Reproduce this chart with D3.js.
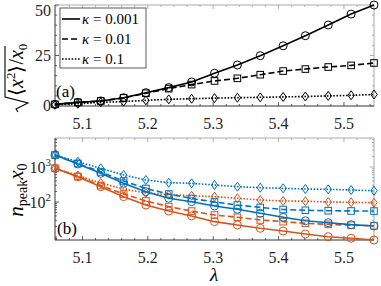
<!DOCTYPE html>
<html>
<head>
<meta charset="utf-8">
<script src="https://cdn.jsdelivr.net/npm/d3@7"></script>
<style>
  body { margin: 0; background: #fff; }
  svg { display: block; }
  text { font-family: "Liberation Serif", serif; }
</style>
</head>
<body>
<svg id="chart" width="381" height="286"></svg>
<script>
// lambda values (shared by both panels)
const lambda = [5.058, 5.093, 5.128, 5.163, 5.197, 5.232, 5.267, 5.302,
                5.337, 5.372, 5.407, 5.441, 5.476, 5.511, 5.546];

// panel (a): sqrt(<x^2>)/x0
const rmsK001 = [0.8, 1.8, 2.5, 4.1, 6.6, 9.1, 11.9, 16.2, 20.3, 24.9, 29.8, 34.8, 40.1, 45.5, 50];
const rmsK01  = [0.8, 1.8, 2.5, 4.0, 6.3, 8.6, 10.6, 12.4, 13.7, 15.5, 17.3, 18.3, 19.3, 20.1, 21.3];
const rmsK1   = [0.6, 1.1, 1.8, 2.2, 2.8, 3.3, 3.6, 3.9, 4.1, 4.3, 4.5, 4.7, 5.0, 5.3, 5.7];

// panel (b): n_peak x0, blue and orange families
const blueK001 = [2200, 1220, 660, 342, 197, 128, 102, 77, 62, 47.5, 36.5, 29, 25.6, 22.5, 20.6];
const blueK01  = [2200, 1260, 720, 398, 243, 169, 126, 100, 82, 70, 61, 58, 56.4, 55.3, 55];
const blueK1   = [2200, 1417, 918, 591, 425, 356, 342, 306, 274, 256, 246, 235, 230, 220, 210];
const orangeK001 = [918, 528, 274, 142, 82, 55, 40, 27.4, 22, 17.7, 14.8, 12.2, 10.2, 9.2, 8.2];
const orangeK01  = [918, 535, 296, 169, 107, 74, 55, 42.5, 36.6, 30.6, 27.4, 24.6, 23, 21.6, 21];
const orangeK1   = [918, 571, 349, 235, 181, 161, 151, 142, 128, 114, 107, 105, 100, 98, 95.5];

const legendLabels = ["0.001", "0.01", "0.1"];
const xTicks = [5.1, 5.2, 5.3, 5.4, 5.5];
const yTicksA = [0, 25, 50];
const yTicksB = [100, 1000];

const svg = d3.select("#chart");
const left = 55, right = 374;
const topA = 5, botA = 106, topB = 138, botB = 240;

let x = d3.scaleLinear().domain([5.058, 5.546]).range([left, right]);
let yA = d3.scaleLinear().domain([0, 50]).range([botA, topA]);
let yB = d3.scaleLog().domain([8.2, 6740]).range([botB, topB]);

const blue = "#0072BD", orange = "#D95319";
const dashes = { solid: null, dash: "6,3", dot: "1.6,1.6" };

function frame(y, top, bot, yMinor, yMajor) {
  let g = svg.append("g");
  // minor x ticks (inside, top and bottom)
  let minor = d3.range(5.06, 5.55, 0.02);
  minor.forEach(v => {
    let px = x(v);
    let major = xTicks.some(t => Math.abs(t - v) < 1e-6);
    let len = major ? 4 : 2;
    g.append("line").attr("x1", px).attr("x2", px).attr("y1", bot).attr("y2", bot - len)
      .attr("stroke", "#333").attr("stroke-width", 0.8);
    g.append("line").attr("x1", px).attr("x2", px).attr("y1", top).attr("y2", top + len)
      .attr("stroke", "#999").attr("stroke-width", 0.8);
  });
  yMinor.forEach(v => {
    let py = y(v);
    let len = yMajor.includes(v) ? 4 : 2;
    g.append("line").attr("x1", left).attr("x2", left + len).attr("y1", py).attr("y2", py)
      .attr("stroke", "#333").attr("stroke-width", 0.8);
    g.append("line").attr("x1", right).attr("x2", right - len).attr("y1", py).attr("y2", py)
      .attr("stroke", "#999").attr("stroke-width", 0.8);
  });
  g.append("line").attr("x1", left).attr("x2", right).attr("y1", top).attr("y2", top).attr("stroke", "#aaa");
  g.append("line").attr("x1", right).attr("x2", right).attr("y1", top).attr("y2", bot).attr("stroke", "#aaa");
  g.append("line").attr("x1", left).attr("x2", right).attr("y1", bot).attr("y2", bot).attr("stroke", "#333");
  g.append("line").attr("x1", left).attr("x2", left).attr("y1", top).attr("y2", bot).attr("stroke", "#333");
  // x tick labels
  xTicks.forEach(t => {
    g.append("text").attr("x", x(t)).attr("y", bot + 23)
      .attr("text-anchor", "middle").attr("font-size", 16).attr("fill", "#262626")
      .text(t.toFixed(1));
  });
}

// marker shapes
function marker(g, shape, px, py, color) {
  if (shape === "circle") {
    g.append("circle").attr("cx", px).attr("cy", py).attr("r", 4)
      .attr("fill", "none").attr("stroke", color).attr("stroke-width", 1);
  } else if (shape === "square") {
    g.append("rect").attr("x", px - 3.3).attr("y", py - 3.3).attr("width", 6.6).attr("height", 6.6)
      .attr("fill", "none").attr("stroke", color).attr("stroke-width", 1);
  } else {
    g.append("path").attr("d", `M${px},${py - 4.5}L${px + 3.2},${py}L${px},${py + 4.5}L${px - 3.2},${py}Z`)
      .attr("fill", "none").attr("stroke", color).attr("stroke-width", 1);
  }
}

function series(y, vals, color, dash, shape) {
  let g = svg.append("g");
  let line = d3.line().x((d, i) => x(lambda[i])).y(d => y(d));
  g.append("path").datum(vals).attr("d", line)
    .attr("fill", "none").attr("stroke", color).attr("stroke-width", 1.6)
    .attr("stroke-dasharray", dash);
  vals.forEach((v, i) => marker(g, shape, x(lambda[i]), y(v), color));
}

// ---- panel (a)
frame(yA, topA, botA, d3.range(0, 51, 5), yTicksA);
yTicksA.forEach(t => {
  svg.append("text").attr("x", 51).attr("y", Math.max(yA(t) + 5, 16)).attr("text-anchor", "end")
    .attr("font-size", 16).attr("fill", "#262626").text(t);
});
series(yA, rmsK1, "#000", dashes.dot, "diamond");
series(yA, rmsK01, "#000", dashes.dash, "square");
series(yA, rmsK001, "#000", dashes.solid, "circle");

// legend
let leg = svg.append("g");
leg.append("rect").attr("x", 60).attr("y", 8).attr("width", 86).attr("height", 60)
  .attr("fill", "#fff").attr("stroke", "#333").attr("stroke-width", 0.8);
[dashes.solid, dashes.dash, dashes.dot].forEach((d, i) => {
  let ly = 19 + i * 20;
  leg.append("line").attr("x1", 62).attr("x2", 80).attr("y1", ly).attr("y2", ly)
    .attr("stroke", "#000").attr("stroke-width", 1.6).attr("stroke-dasharray", d);
  let t = leg.append("text").attr("x", 82).attr("y", ly + 5).attr("font-size", 15);
  t.append("tspan").attr("font-style", "italic").text("κ");
  t.append("tspan").text(" = " + legendLabels[i]);
});

svg.append("text").attr("x", 56).attr("y", 97).attr("font-size", 17).text("(a)");

// y label (a): radical drawn as a path, text beside it
let la = svg.append("g").attr("transform", "translate(23,56) rotate(-90)");
la.append("path").attr("d", "M-56,-5 L-53,-7 L-47,5 L-41,-18 L10,-18")
  .attr("fill", "none").attr("stroke", "#000").attr("stroke-width", 1.1);
let lat = la.append("text").attr("x", -40).attr("y", 0).attr("font-size", 20);
lat.append("tspan").text("⟨");
lat.append("tspan").attr("font-style", "italic").text("x");
lat.append("tspan").attr("font-size", 13).attr("dy", -8).text("2");
lat.append("tspan").attr("dy", 8).text("⟩/");
lat.append("tspan").attr("font-style", "italic").text("x");
lat.append("tspan").attr("font-size", 13).attr("dy", 4).text("0");

// ---- panel (b)
let minorB = [];
[1, 10, 100, 1000].forEach(dec => d3.range(1, 10).forEach(k => {
  let v = dec * k;
  if (v >= 8.2 && v <= 6740) minorB.push(v);
}));
frame(yB, topB, botB, minorB, yTicksB);
yTicksB.forEach(t => {
  let tx = svg.append("text").attr("x", 51).attr("y", yB(t) + 6).attr("text-anchor", "end")
    .attr("font-size", 16).attr("fill", "#262626");
  tx.append("tspan").text("10");
  tx.append("tspan").attr("font-size", 11).attr("dy", -7).text(Math.round(Math.log10(t)));
});

series(yB, blueK1, blue, dashes.dot, "diamond");
series(yB, orangeK1, orange, dashes.dot, "diamond");
series(yB, blueK01, blue, dashes.dash, "square");
series(yB, orangeK01, orange, dashes.dash, "square");
series(yB, blueK001, blue, dashes.solid, "circle");
series(yB, orangeK001, orange, dashes.solid, "circle");

svg.append("text").attr("x", 57).attr("y", 234).attr("font-size", 17).text("(b)");

let lb = svg.append("text").attr("transform", "translate(23,190) rotate(-90)")
  .attr("text-anchor", "middle").attr("font-size", 21);
lb.append("tspan").attr("font-style", "italic").text("n");
lb.append("tspan").attr("font-size", 14).attr("dy", 4).text("peak");
lb.append("tspan").attr("font-style", "italic").attr("dy", -4).text("x");
lb.append("tspan").attr("font-size", 14).attr("dy", 4).text("0");

svg.append("text").attr("x", 214).attr("y", 281).attr("text-anchor", "middle")
  .attr("font-size", 19).attr("font-style", "italic").text("λ");
</script>
</body>
</html>
